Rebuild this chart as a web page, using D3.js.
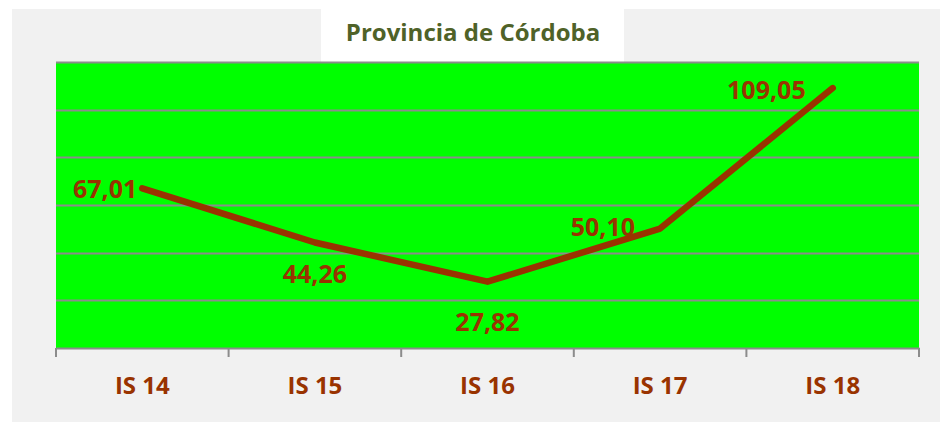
<!DOCTYPE html>
<html>
<head>
<meta charset="utf-8">
<script src="https://cdn.jsdelivr.net/npm/d3@7"></script>
<style>
  body { margin: 0; background: #ffffff; }
  svg { display: block; font-family: "Open Sans", sans-serif; }
</style>
</head>
<body>
<svg id="vis" width="940" height="422"></svg>
<script>
// data
const categories = ["IS 14", "IS 15", "IS 16", "IS 17", "IS 18"];
const values = [67.01, 44.26, 27.82, 50.10, 109.05];
const yTicks = [0, 20, 40, 60, 80, 100, 120];
// data label placement relative to each point: [dx, dy, anchor]
const labelOffset = [[-5, 0, "end"], [0, 30, "middle"], [0, 39, "middle"], [-25, -3, "end"], [-27, 1, "end"]];

const svg = d3.select("svg#vis");
const plot = { left: 56, right: 919, top: 62, bottom: 348 };

// gray chart background + white title box
svg.append("rect").attr("x", 12).attr("y", 9).attr("width", 928).attr("height", 413)
  .attr("fill", "#f1f1f1");
svg.append("rect").attr("x", 321).attr("y", 0).attr("width", 303).attr("height", 62)
  .attr("fill", "#ffffff");

svg.append("text")
  .attr("x", 473).attr("y", 31)
  .attr("text-anchor", "middle").attr("dominant-baseline", "central")
  .attr("fill", "#4f6228").attr("font-weight", "bold").attr("font-size", 24)
  .text("Provincia de Córdoba");

const x = d3.scaleBand().domain(categories).range([plot.left, plot.right]);
const y = d3.scaleLinear().domain([0, 120]).range([plot.bottom, plot.top]);

// plot area
svg.append("rect")
  .attr("x", plot.left).attr("y", plot.top)
  .attr("width", plot.right - plot.left).attr("height", plot.bottom - plot.top)
  .attr("fill", "#00ff00");

// gridlines
svg.append("g").selectAll("line")
  .data(yTicks.slice(1))
  .join("line")
  .attr("x1", plot.left).attr("x2", plot.right)
  .attr("y1", d => Math.round(y(d)) + 0.5).attr("y2", d => Math.round(y(d)) + 0.5)
  .attr("stroke", "#8c8c8c").attr("stroke-width", 2);

// x axis
const xAxis = svg.append("g")
  .attr("transform", "translate(0," + plot.bottom + ")")
  .call(d3.axisBottom(x).tickSize(0).tickPadding(0));
xAxis.select(".domain").attr("stroke", "#8c8c8c").attr("stroke-width", 2);
xAxis.selectAll(".tick text")
  .attr("y", 38)
  .attr("dy", "0.35em")
  .attr("fill", "#993300").attr("font-weight", "bold").attr("font-size", 24)
  .attr("font-family", "'Open Sans', sans-serif");

// category boundary ticks
const bounds = categories.map(c => x(c)).concat([plot.right]);
svg.append("g").selectAll("line")
  .data(bounds)
  .join("line")
  .attr("x1", d => d).attr("x2", d => d)
  .attr("y1", plot.bottom).attr("y2", plot.bottom + 9)
  .attr("stroke", "#8c8c8c").attr("stroke-width", 2);

// line
const cx = d => x(d) + x.bandwidth() / 2;
const line = d3.line()
  .x((d, i) => cx(categories[i]))
  .y(d => y(d));

svg.append("path")
  .datum(values)
  .attr("d", line)
  .attr("fill", "none")
  .attr("stroke", "#993300")
  .attr("stroke-width", 6.5)
  .attr("stroke-linecap", "round")
  .attr("stroke-linejoin", "round");

// data labels
svg.append("g").selectAll("text")
  .data(values)
  .join("text")
  .attr("x", (d, i) => cx(categories[i]) + labelOffset[i][0])
  .attr("y", (d, i) => y(d) + labelOffset[i][1])
  .attr("text-anchor", (d, i) => labelOffset[i][2])
  .attr("dominant-baseline", "central")
  .attr("fill", "#993300").attr("font-weight", "bold").attr("font-size", 25)
  .text(d => d3.format(".2f")(d).replace(".", ","));
</script>
</body>
</html>
